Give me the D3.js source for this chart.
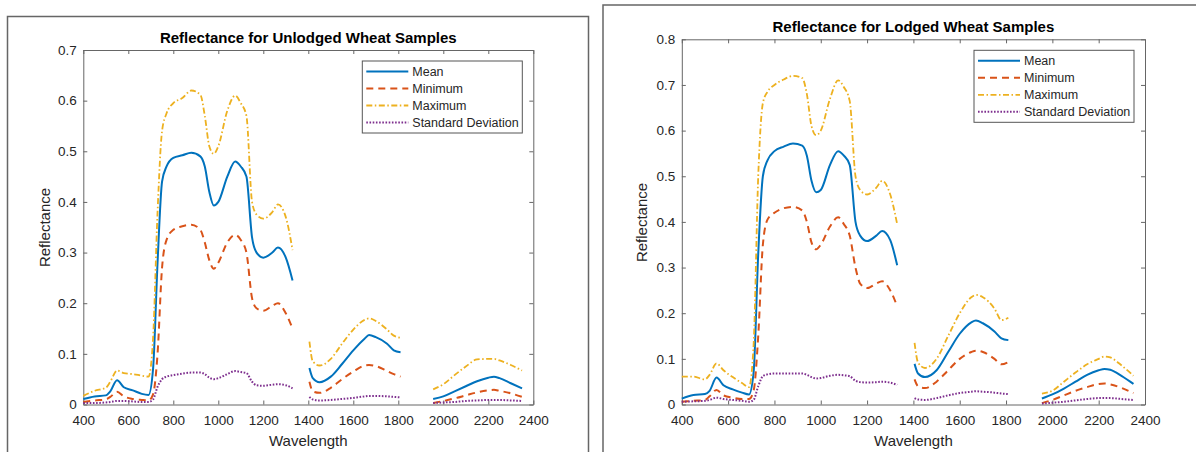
<!DOCTYPE html>
<html>
<head>
<meta charset="utf-8">
<script src="https://cdn.jsdelivr.net/npm/d3@7"></script>
<style>
  body { margin: 0; background: #fff; }
  svg { display: block; font-family: "Liberation Sans", Arial, sans-serif; }
  .axis path, .axis line { stroke: #666; }
</style>
</head>
<body>
<svg id="chart" width="1196" height="452"></svg>
<script>
// wavelength grid, null entries mark the gaps between the three bands
const wavelength = [400, 450, 500, 520, 550, 580, 620, 660, 690, 710, 730, 750, 770, 800, 840, 880, 920, 940, 960, 980,
  1000, 1040, 1075, 1100, 1125, 1150, 1170, 1200, 1240, 1265, 1300, 1330,
  1370,
  1405, 1420, 1450, 1500, 1550, 1600, 1650, 1670, 1700, 1750, 1780, 1810,
  1880,
  1955, 2000, 2050, 2100, 2150, 2200, 2225, 2250, 2300, 2350];

const xTicks = [400, 600, 800, 1000, 1200, 1400, 1600, 1800, 2000, 2200, 2400];
const yTicksUnlodged = [0, 0.1, 0.2, 0.3, 0.4, 0.5, 0.6, 0.7];
const yTicksLodged = [0, 0.1, 0.2, 0.3, 0.4, 0.5, 0.6, 0.7, 0.8];
const seriesNames = ["Mean", "Minimum", "Maximum", "Standard Deviation"];

// unlodged samples
const unlodgedMean = [.011, .016, .018, .026, .048, .034, .028, .021, .019, .07, .28, .44, .47, .487, .492, .497, .49, .47, .42, .393,
  .40, .45, .48, .47, .45, .33, .30, .29, .30, .31, .29, .245,
  null,
  .072, .052, .044, .055, .08, .107, .13, .137, .133, .12, .107, .103,
  null,
  .011, .016, .026, .036, .046, .053, .055, .052, .042, .032];
const unlodgedMin = [.005, .008, .01, .015, .025, .016, .011, .009, .008, .02, .10, .27, .325, .345, .352, .355, .345, .32, .285, .268,
  .28, .32, .335, .325, .30, .21, .19, .185, .195, .20, .18, .15,
  null,
  .045, .026, .023, .033, .05, .065, .077, .078, .076, .066, .06, .055,
  null,
  .003, .007, .012, .018, .024, .028, .029, .027, .022, .015];
const unlodgedMax = [.017, .027, .033, .045, .067, .062, .06, .057, .055, .13, .38, .54, .575, .595, .605, .62, .612, .57, .51, .495,
  .51, .58, .61, .595, .57, .40, .375, .367, .38, .395, .37, .305,
  null,
  .124, .085, .077, .09, .12, .148, .167, .17, .165, .148, .136, .132,
  null,
  .03, .04, .058, .075, .089, .09, .09, .087, .078, .067];
const unlodgedStd = [.003, .003, .004, .005, .007, .007, .006, .005, .005, .01, .035, .05, .055, .058, .061, .063, .063, .06, .053, .05,
  .052, .06, .066, .064, .062, .045, .038, .037, .039, .04, .038, .032,
  null,
  .015, .01, .008, .009, .011, .013, .016, .017, .017, .016, .015, .014,
  null,
  .003, .004, .005, .007, .008, .009, .009, .009, .008, .007];

// lodged samples
const lodgedMean = [.013, .021, .023, .03, .059, .042, .033, .026, .022, .07, .33, .50, .535, .555, .565, .572, .567, .545, .49, .465,
  .47, .525, .555, .545, .525, .40, .37, .358, .37, .38, .36, .305,
  null,
  .089, .068, .06, .075, .115, .155, .18, .184, .178, .16, .145, .141,
  null,
  .013, .022, .035, .05, .065, .075, .078, .076, .062, .045];
const lodgedMin = [.006, .008, .01, .018, .032, .02, .015, .012, .012, .03, .15, .35, .405, .42, .43, .433, .425, .40, .355, .34,
  .35, .39, .41, .395, .37, .30, .265, .255, .265, .27, .25, .215,
  null,
  .055, .04, .036, .05, .075, .10, .115, .118, .115, .10, .088, .093,
  null,
  .003, .01, .02, .03, .038, .045, .046, .044, .036, .025];
const lodgedMax = [.061, .061, .055, .065, .09, .075, .06, .047, .038, .13, .50, .66, .685, .70, .712, .72, .715, .68, .61, .59,
  .60, .67, .71, .695, .665, .50, .47, .46, .475, .49, .46, .395,
  null,
  .135, .092, .08, .10, .15, .20, .235, .24, .235, .21, .185, .19,
  null,
  .024, .03, .05, .07, .088, .10, .105, .103, .085, .063];
const lodgedStd = [.006, .007, .008, .01, .015, .012, .01, .008, .006, .01, .04, .062, .066, .068, .068, .068, .068, .065, .06, .057,
  .058, .063, .065, .064, .062, .052, .049, .048, .049, .05, .048, .043,
  null,
  .014, .011, .01, .014, .02, .025, .028, .029, .028, .026, .024, .023,
  null,
  .002, .004, .006, .009, .012, .014, .014, .014, .012, .01];

const styles = [
  { color: "#0072BD", dash: null, width: 2 },
  { color: "#D95319", dash: "7,5", width: 2 },
  { color: "#EDB120", dash: "6,2.5,1.5,2.5", width: 1.8 },
  { color: "#7E2F8E", dash: "1.6,1.6", width: 2 },
];

const svg = d3.select("#chart");

// outer figure frames
svg.append("path")
  .attr("d", "M7.5,460 V16.5 H588.5 V460")
  .attr("fill", "none").attr("stroke", "#666").attr("stroke-width", 1.5);
svg.append("path")
  .attr("d", "M603,460 V5 H1200")
  .attr("fill", "none").attr("stroke", "#666").attr("stroke-width", 1.5);

function styleAxis(sel) {
  sel.attr("font-family", "Liberation Sans, Arial, sans-serif")
    .attr("font-size", 13.5);
  sel.selectAll("text").attr("fill", "#262626");
}

function drawPanel(opts) {
  const w = opts.right - opts.left;
  const h = opts.bottom - opts.top;
  const x = d3.scaleLinear().domain([400, 2400]).range([0, w]);
  const y = d3.scaleLinear().domain([0, d3.max(opts.yTicks)]).range([h, 0]);

  const g = svg.append("g").attr("transform", "translate(" + opts.left + "," + opts.top + ")");

  // axes with inward ticks on all four sides
  g.append("g").attr("class", "axis")
    .attr("transform", "translate(0," + h + ")")
    .call(d3.axisBottom(x).tickValues(xTicks).tickSizeInner(-4).tickSizeOuter(0).tickPadding(11)
      .tickFormat(d3.format("d")))
    .call(styleAxis);
  g.append("g").attr("class", "axis")
    .call(d3.axisTop(x).tickValues(xTicks).tickSizeInner(-4).tickSizeOuter(0).tickFormat(""));
  g.append("g").attr("class", "axis")
    .call(d3.axisLeft(y).tickValues(opts.yTicks).tickSizeInner(-4).tickSizeOuter(0).tickPadding(6.5)
      .tickFormat(d => d === 0 ? "0" : d3.format(".1f")(d)))
    .call(styleAxis);
  g.append("g").attr("class", "axis")
    .attr("transform", "translate(" + w + ",0)")
    .call(d3.axisRight(y).tickValues(opts.yTicks).tickSizeInner(-4).tickSizeOuter(0).tickFormat(""));

  const line = d3.line()
    .defined(d => d.v != null)
    .x(d => x(d.w))
    .y(d => y(d.v))
    .curve(d3.curveMonotoneX);

  opts.series.forEach(function (vals, i) {
    const data = wavelength.map((w, j) => ({ w: w, v: vals[j] }));
    g.append("path")
      .datum(data)
      .attr("d", line)
      .attr("fill", "none")
      .attr("stroke", styles[i].color)
      .attr("stroke-width", styles[i].width)
      .attr("stroke-dasharray", styles[i].dash)
      .attr("stroke-linejoin", "round");
  });

  // title and axis labels
  g.append("text")
    .attr("x", w / 2).attr("y", -7.5)
    .attr("text-anchor", "middle")
    .style("font-size", "15px").style("font-weight", "bold").style("fill", "#000")
    .text(opts.title);
  g.append("text")
    .attr("x", w / 2).attr("y", 446 - opts.top)
    .attr("text-anchor", "middle")
    .style("font-size", "15px").style("fill", "#262626")
    .text("Wavelength");
  g.append("text")
    .attr("transform", "translate(" + (opts.ylabelX - opts.left) + "," + (opts.ylabelY - opts.top) + ") rotate(-90)")
    .attr("text-anchor", "middle")
    .style("font-size", "15px").style("fill", "#262626")
    .text("Reflectance");

  // legend
  const lw = 160, lh = 72;
  const lg = g.append("g").attr("transform", "translate(" + (w - 11 - lw) + ",11)");
  lg.append("rect")
    .attr("width", lw).attr("height", lh)
    .attr("fill", "#fff").attr("stroke", "#555").attr("stroke-width", 1);
  const rows = [10.5, 27.5, 44.5, 61.5];
  seriesNames.forEach(function (name, i) {
    lg.append("line")
      .attr("x1", 4).attr("x2", 46)
      .attr("y1", rows[i]).attr("y2", rows[i])
      .attr("stroke", styles[i].color)
      .attr("stroke-width", styles[i].width)
      .attr("stroke-dasharray", styles[i].dash);
    lg.append("text")
      .attr("x", 50).attr("y", rows[i])
      .attr("dy", "0.35em")
      .style("font-size", "12.5px").style("fill", "#262626")
      .text(name);
  });
}

drawPanel({
  left: 83.3, right: 533.3, top: 50, bottom: 404.5,
  yTicks: yTicksUnlodged,
  title: "Reflectance for Unlodged Wheat Samples",
  ylabelX: 50, ylabelY: 227.5,
  series: [unlodgedMean, unlodgedMin, unlodgedMax, unlodgedStd],
});

drawPanel({
  left: 681.8, right: 1145, top: 39.3, bottom: 404.5,
  yTicks: yTicksLodged,
  title: "Reflectance for Lodged Wheat Samples",
  ylabelX: 647, ylabelY: 222.5,
  series: [lodgedMean, lodgedMin, lodgedMax, lodgedStd],
});
</script>
</body>
</html>
